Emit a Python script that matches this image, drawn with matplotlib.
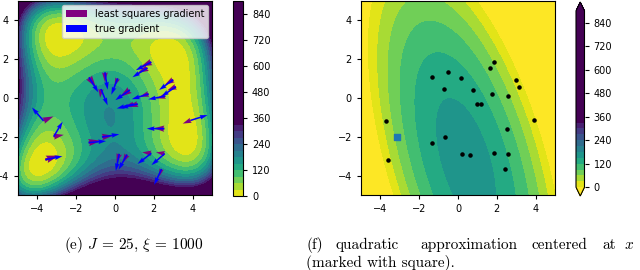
import numpy as np
import matplotlib.pyplot as plt
from matplotlib.colors import Normalize

plt.rcParams['mathtext.fontset'] = 'cm'

# sample points (J = 25), first one is the expansion point x (the square)
pts_x = [-3.16, -3.69, -3.59, -1.34, -0.52, -0.72, 0.14, 0.76, 0.96, 1.17,
         1.67, 1.87, 1.73, 3.00, 3.14, 2.59, 3.91, 2.54, -1.36, -0.67,
         0.22, 0.62, 1.87, 2.56, 2.40]
pts_y = [-1.99, -1.17, -3.18, 1.06, 1.32, 0.46, 1.01, 0.41, -0.31, -0.31,
         1.55, 1.85, 0.21, 0.94, 0.58, 0.10, -1.15, -1.58, -2.30, -2.01,
         -2.88, -2.92, -2.85, -2.87, -3.66]

# true gradient arrows (blue)
true_u = [0.46, -0.59, 0.88, 0.48, 0.14, 0.34, -0.33, -0.74, -0.87, -0.88,
          -0.77, -0.80, -0.86, -0.73, -0.75, -0.88, 0.86, -0.90, 0.90, 0.89,
          -0.18, -0.44, -0.71, -0.68, -0.38]
true_v = [0.77, 0.68, 0.18, -0.77, -0.89, -0.84, -0.84, -0.52, -0.23, -0.20,
          -0.48, -0.42, -0.27, -0.53, -0.50, -0.17, 0.27, 0.00, 0.08, 0.14,
          -0.88, -0.78, -0.55, -0.59, -0.82]

# least squares gradient arrows (purple)
ls_u = [0.52, 0.52, 0.69, 0.35, 0.00, -0.05, -0.17, -0.50, -0.42, -0.50,
        -0.49, -0.52, -0.47, -0.43, -0.45, -0.45, -0.42, -0.54, 0.62, 0.56,
        -0.14, -0.23, -0.47, -0.45, -0.12]
ls_v = [0.09, 0.22, 0.21, -0.50, -0.50, -0.45, -0.40, -0.35, -0.12, -0.15,
        -0.26, -0.22, -0.15, -0.26, -0.19, -0.12, -0.17, 0.02, 0.10, 0.07,
        -0.46, -0.43, 0.05, 0.07, -0.38]

levels = list(range(0, 901, 30))
cbar_ticks = [0, 120, 240, 360, 480, 600, 720, 840]

# quadratic model of panel (f)
q_center = (0.41, -3.27)
q_peak = 165.0
q_hess = [[18.6, 4.78], [4.78, 4.10]]

# caption of (f), first line is justified word by word
cap_words = ['(f)', 'quadratic', 'approximation', 'centered', 'at', '$x$']
cap_word_px = [306, 336, 420, 532, 602, 624]


def himmelblau(x, y):
    return (x**2 + y - 11)**2 + (x + y**2 - 7)**2


g = np.linspace(-5, 5, 400)
X, Y = np.meshgrid(g, g)
Z = himmelblau(X, Y)

U = X - q_center[0]
V = Y - q_center[1]
Q = q_peak - 0.5 * (q_hess[0][0] * U**2 + 2 * q_hess[0][1] * U * V
                    + q_hess[1][1] * V**2)

norm = Normalize(vmin=0, vmax=345)
cmap = 'viridis_r'

fig = plt.figure(figsize=(6.4, 2.7), dpi=100)
ax1 = fig.add_axes([18 / 640, 75 / 270, 194 / 640, 194 / 270])
cax1 = fig.add_axes([233 / 640, 74 / 270, 10 / 640, 195 / 270])
ax2 = fig.add_axes([361 / 640, 75 / 270, 194 / 640, 194 / 270])
cax2 = fig.add_axes([576 / 640, 74 / 270, 8.5 / 640, 194 / 270])

# (e) Himmelblau with gradients
cs1 = ax1.contourf(X, Y, Z, levels=levels, cmap=cmap, norm=norm)
ax1.quiver(pts_x, pts_y, ls_u, ls_v, color='purple', angles='xy',
           scale_units='xy', scale=1, width=0.013,
           label='least squares gradient')
ax1.quiver(pts_x, pts_y, true_u, true_v, color='blue', angles='xy',
           scale_units='xy', scale=1, width=0.008, label='true gradient')
ax1.legend(loc='upper right', fontsize=7, borderaxespad=0.4,
           handlelength=2.2, framealpha=0.8)
cb1 = fig.colorbar(cs1, cax=cax1, ticks=cbar_ticks)

# (f) quadratic approximation
cs2 = ax2.contourf(X, Y, Q, levels=levels, cmap=cmap, norm=norm,
                   extend='both')
ax2.scatter(pts_x[1:], pts_y[1:], s=5, color='black', zorder=3)
ax2.scatter(pts_x[:1], pts_y[:1], s=14, marker='s', color='#1f77b4',
            zorder=3)
cb2 = fig.colorbar(cs2, cax=cax2, ticks=cbar_ticks)

for ax in (ax1, ax2):
    ax.set_xlim(-5, 5)
    ax.set_ylim(-5, 5)
    ax.set_xticks([-4, -2, 0, 2, 4])
    ax.set_yticks([-4, -2, 0, 2, 4])
    ax.tick_params(labelsize=7, length=3)
for cb in (cb1, cb2):
    cb.ax.tick_params(labelsize=7, length=3)

fig.text(134 / 640, 1 - 245 / 270, r'(e) $J$ = 25, $\xi$ = 1000',
         family='cmr10', fontsize=11, ha='center', va='center')
for word, px in zip(cap_words, cap_word_px):
    fig.text(px / 640, 1 - 245 / 270, word, family='cmr10', fontsize=11,
             ha='left', va='center')
fig.text(306 / 640, 1 - 263 / 270, '(marked with square).',
         family='cmr10', fontsize=11, ha='left', va='center')

fig.savefig('out.png', dpi=100)
